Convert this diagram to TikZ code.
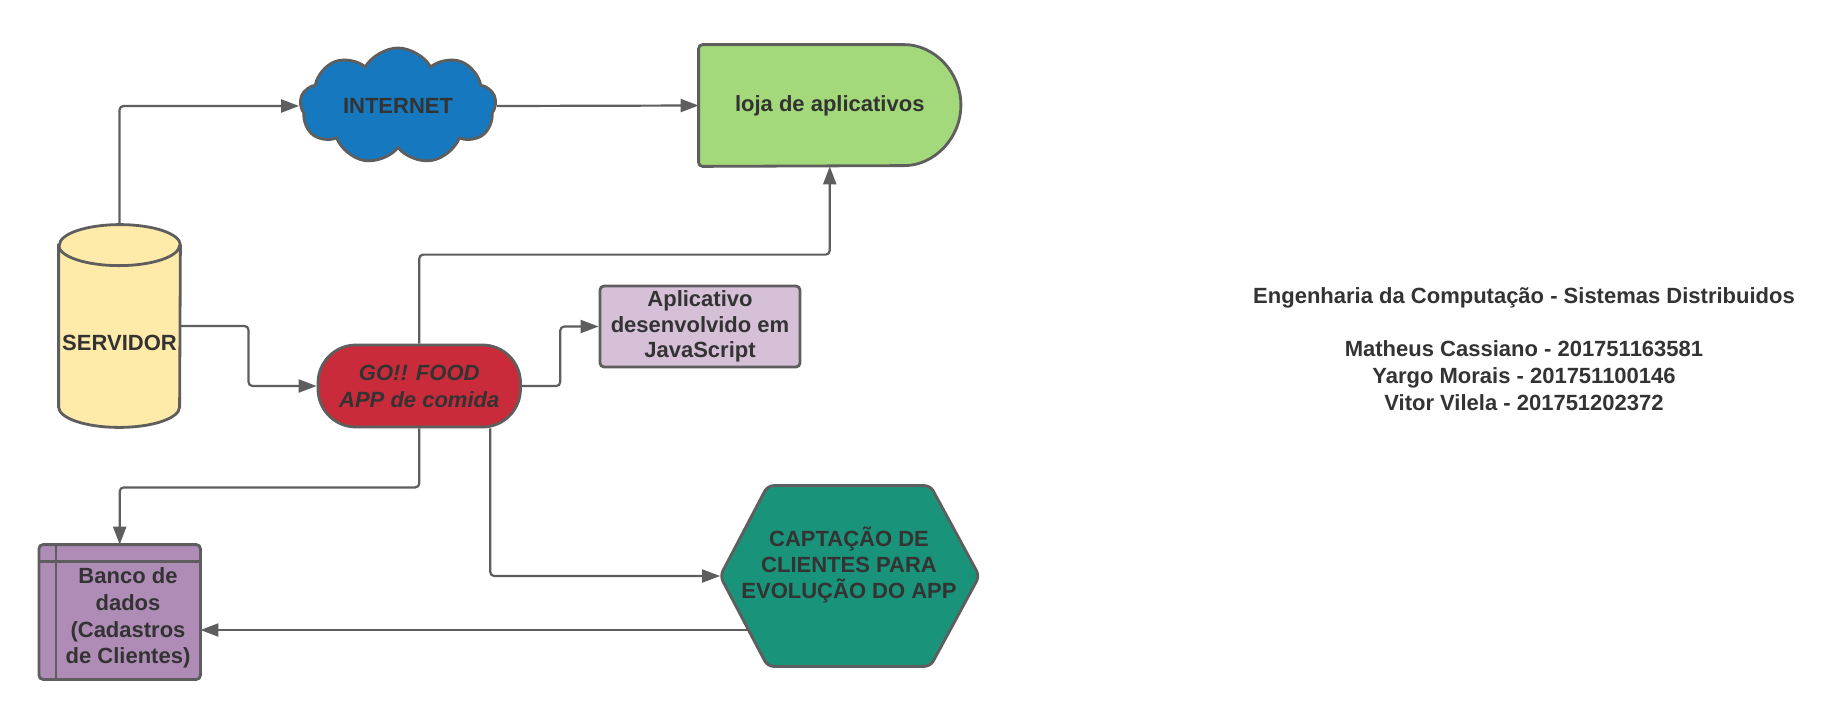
\documentclass[tikz,border=0pt]{standalone}
\usepackage{fontspec}
\setmainfont{Liberation Sans}
\usetikzlibrary{shapes.symbols,arrows.meta,calc,backgrounds}
\definecolor{stroke}{HTML}{5E5E5E}
\definecolor{txt}{HTML}{333333}
\definecolor{cloudblue}{HTML}{1679BF}
\definecolor{lojagreen}{HTML}{A3D97A}
\definecolor{srvyellow}{HTML}{FFEBA9}
\definecolor{gored}{HTML}{C92B3A}
\definecolor{aplpurple}{HTML}{D5C0D8}
\definecolor{bancopurple}{HTML}{AF8CB6}
\definecolor{hexteal}{HTML}{1A937B}
\begin{document}
\begin{tikzpicture}[x=0.5pt,y=-0.5pt,
  every node/.style={font=\fontsize{11pt}{13.4pt}\selectfont\bfseries, text=txt},
  shapeline/.style={draw=stroke, line width=1.4pt},
  conn/.style={draw=stroke, line width=1.1pt, rounded corners=2pt, -{Triangle[length=9pt,width=6.5pt]}},
  geobox/.style={rectangle, inner sep=0pt, draw=none},
]
\useasboundingbox (0,0) rectangle (1836,719);

% nodes
\node[cloud, cloud puffs=9, cloud puff arc=120, cloud ignores aspect, minimum width=98pt, minimum height=58pt, inner sep=0pt, fill=cloudblue, shapeline] (cloud) at (398,106) {INTERNET};
\node[geobox, minimum width=130.75pt, minimum height=60.5pt] (loja) at (829.75,105.5) {loja de aplicativos};
\node[geobox, minimum width=60.5pt, minimum height=101pt] (srv) at (119.5,326) {};
\node (srvT) at (119.5,343) {SERVIDOR};
\node[rectangle, rounded corners=19pt, minimum width=101.25pt, minimum height=41pt, inner sep=0pt, fill=gored, shapeline, align=center, font=\fontsize{11pt}{13.5pt}\selectfont\bfseries\itshape] (go) at (419.25,386) {GO!! FOOD\\APP de comida};
\node[rectangle, rounded corners=2pt, minimum width=100pt, minimum height=40.5pt, inner sep=0pt, fill=aplpurple, shapeline, align=center, font=\fontsize{11pt}{12.75pt}\selectfont\bfseries] (apl) at (700,326.5) {Aplicativo\\desenvolvido em\\JavaScript};
\node[geobox, minimum width=80.3pt, minimum height=67pt] (banco) at (119.7,612) {};
\node[align=center, font=\fontsize{11pt}{13.4pt}\selectfont\bfseries] (bancoT) at (128,618) {Banco de\\dados\\(Cadastros\\de Clientes)};
\node[geobox, minimum width=129.25pt, minimum height=90pt] (hexn) at (849.75,576) {};
\node[align=center, font=\fontsize{11pt}{13pt}\selectfont\bfseries] (hexT) at (849,565) {CAPTAÇÃO DE\\CLIENTES PARA\\EVOLUÇÃO DO APP};
\node[align=center] (info) at (1524,349) {Engenharia da Computação - Sistemas Distribuidos\\[13.4pt]Matheus Cassiano - 201751163581\\Yargo Morais - 201751100146\\Vitor Vilela - 201751202372};

% shapes on background
\begin{scope}[on background layer]
\fill[white] (0,0) rectangle (1836,719);
\draw[shapeline, fill=lojagreen, rounded corners=2pt] (loja.north west) -- ($(loja.north east)+(-60.5,0)$) arc[start angle=90,end angle=-90,radius=30.25pt] -- (loja.south west) -- cycle;
\draw[shapeline, fill=srvyellow] ($(srv.north west)+(0,20.5)$) -- ($(srv.south west)+(0,-20.5)$) arc[start angle=180,end angle=360,x radius=30.25pt,y radius=10.25pt] -- ($(srv.north east)+(0,20.5)$) arc[start angle=0,end angle=180,x radius=30.25pt,y radius=10.25pt] -- cycle;
\draw[shapeline] ($(srv.north west)+(0,20.5)$) arc[start angle=180,end angle=360,x radius=30.25pt,y radius=10.25pt];
\draw[shapeline, fill=bancopurple, rounded corners=2pt] (banco.north west) rectangle (banco.south east);
\draw[shapeline] ($(banco.north west)+(17,0)$) -- ($(banco.south west)+(17,0)$);
\draw[shapeline] ($(banco.north west)+(0,17)$) -- ($(banco.north east)+(0,17)$);
\draw[shapeline, fill=hexteal, rounded corners=3pt] (hexn.west) -- ($(hexn.north west)+(47.5,0)$) -- ($(hexn.north east)+(-49,0)$) -- (hexn.east) -- ($(hexn.south east)+(-49,0)$) -- ($(hexn.south west)+(47.5,0)$) -- cycle;
\end{scope}

% connectors
\draw[conn] (srv.north) |- (cloud.west);
\draw[conn] (cloud.east) -- (loja.west);
\draw[conn] (srv.east) -| ($(srv.east)!.5!(go.west)$) |- (go.west);
\draw[conn] (go.north) -- ++(0,-89) -| (loja.south);
\draw[conn] (go.east) -| ($(go.east)!.5!(apl.west)$) |- (apl.west);
\draw[conn] (go.south) -- ++(0,59) -| (banco.north);
\draw[conn] ($(go.south)+(71,0)$) |- (hexn.west);
\draw[conn] ($(hexn.west)+(28.5,54)$) -- ($(banco.east)+(0,18)$);
\end{tikzpicture}
\end{document}
